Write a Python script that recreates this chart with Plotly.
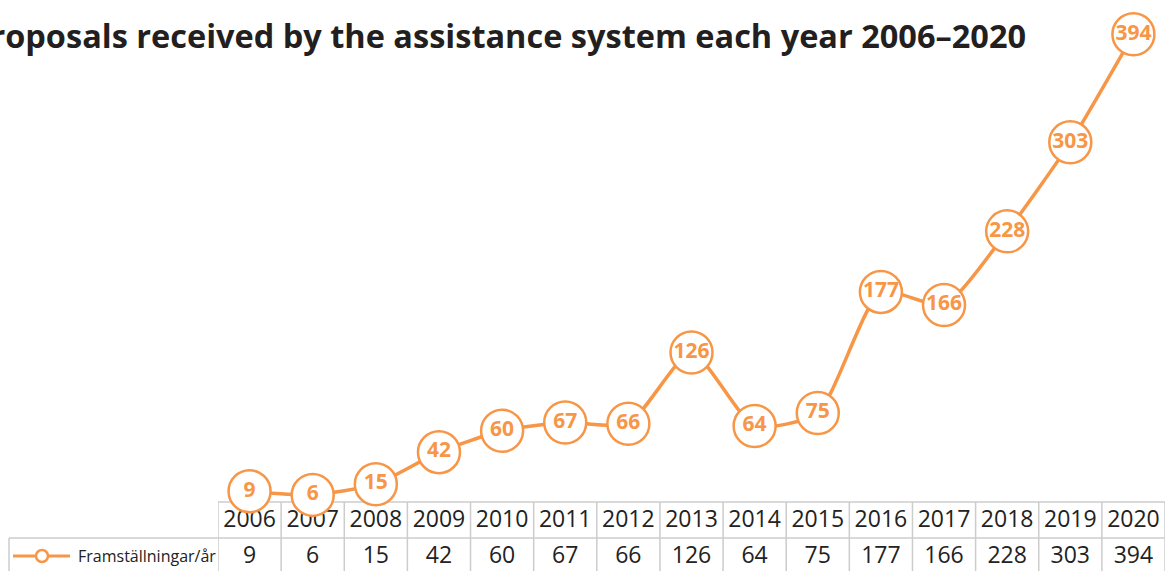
import plotly.graph_objects as go

# Data
years = [2006, 2007, 2008, 2009, 2010, 2011, 2012, 2013, 2014, 2015,
         2016, 2017, 2018, 2019, 2020]
proposals = [9, 6, 15, 42, 60, 67, 66, 126, 64, 75, 177, 166, 228, 303, 394]
series_name = "Framställningar/år"
title_text = "Proposals received by the assistance system each year 2006–2020"

# Layout geometry (pixels)
W, H = 1166, 571
ML, MR, MT, MB = 218, 1, 0, 0
PLOT_W = W - ML - MR
PLOT_H = H - MT - MB
ZERO_PX = 502          # pixel row of the value axis baseline (top of table)
PX_PER_UNIT = 1.187    # vertical scale
Y_MIN = -(H - ZERO_PX) / PX_PER_UNIT
Y_MAX = ZERO_PX / PX_PER_UNIT

ORANGE = "#F79646"
GRID = "#CCCCCC"
TEXT = "#222222"


def py_to_paper(py):
    return (H - py) / PLOT_H


def px_to_paper(px):
    return (px - ML) / PLOT_W


def py_to_y(py):
    return (ZERO_PX - py) / PX_PER_UNIT


fig = go.Figure()

# Data table text (header row with years, value row below)
fig.add_trace(go.Scatter(
    x=years, y=[py_to_y(521)] * len(years), mode="text",
    text=[str(y) for y in years],
    textfont=dict(family="Open Sans", size=23, color=TEXT),
    cliponaxis=False, hoverinfo="skip", showlegend=False,
))
fig.add_trace(go.Scatter(
    x=years, y=[py_to_y(557)] * len(years), mode="text",
    text=[str(v) for v in proposals],
    textfont=dict(family="Open Sans", size=23, color=TEXT),
    cliponaxis=False, hoverinfo="skip", showlegend=False,
))

# Main series: smoothed line with labelled circles
fig.add_trace(go.Scatter(
    x=years, y=proposals, mode="lines+markers+text",
    name=series_name,
    line=dict(color=ORANGE, width=3.5, shape="spline", smoothing=0.6),
    marker=dict(size=42, color="white", line=dict(color=ORANGE, width=2.5)),
    text=[str(v) for v in proposals], textposition="middle center",
    textfont=dict(family="Open Sans", size=21, color=ORANGE, weight="bold"),
    cliponaxis=False, showlegend=False,
))

shapes = []
line_style = dict(color=GRID, width=1.5)
# Vertical table borders
for i in range(len(years) + 1):
    xb = years[0] - 0.5 + i
    shapes.append(dict(type="line", xref="x", yref="paper",
                       x0=xb, x1=xb, y0=py_to_paper(H), y1=py_to_paper(ZERO_PX),
                       line=line_style, layer="below"))
# Top of header row
shapes.append(dict(type="line", xref="x", yref="paper",
                   x0=years[0] - 0.5, x1=years[-1] + 0.5,
                   y0=py_to_paper(ZERO_PX), y1=py_to_paper(ZERO_PX),
                   line=line_style, layer="below"))
# Separator between header and value rows (extends under the row label)
shapes.append(dict(type="line", xref="paper", yref="paper",
                   x0=px_to_paper(9), x1=1,
                   y0=py_to_paper(538), y1=py_to_paper(538),
                   line=line_style, layer="below"))
# Left border of row-label cell
shapes.append(dict(type="line", xref="paper", yref="paper",
                   x0=px_to_paper(9), x1=px_to_paper(9),
                   y0=py_to_paper(H), y1=py_to_paper(538),
                   line=line_style, layer="below"))
# Legend key in the row label: line with open circle
shapes.append(dict(type="line", xref="paper", yref="paper",
                   x0=px_to_paper(13), x1=px_to_paper(70),
                   y0=py_to_paper(556), y1=py_to_paper(556),
                   line=dict(color=ORANGE, width=3)))
shapes.append(dict(type="circle", xref="paper", yref="paper",
                   x0=px_to_paper(36), x1=px_to_paper(48),
                   y0=py_to_paper(562), y1=py_to_paper(550),
                   fillcolor="white", line=dict(color=ORANGE, width=2.5)))

annotations = [
    dict(text=series_name, xref="paper", yref="paper",
         x=px_to_paper(76), y=py_to_paper(556), xanchor="left", yanchor="middle",
         showarrow=False, font=dict(family="Open Sans", size=16, color=TEXT)),
    dict(text=f"<b>{title_text}</b>", xref="paper", yref="paper",
         x=px_to_paper(1028), y=py_to_paper(35), xanchor="right", yanchor="middle",
         showarrow=False, font=dict(family="Open Sans", size=32.5, color="#231F20")),
]

fig.update_layout(
    width=W, height=H,
    margin=dict(l=ML, r=MR, t=MT, b=MB),
    paper_bgcolor="white", plot_bgcolor="white",
    xaxis=dict(range=[years[0] - 0.5, years[-1] + 0.5], visible=False),
    yaxis=dict(range=[Y_MIN, Y_MAX], visible=False),
    shapes=shapes, annotations=annotations,
)

fig.write_html("out.html")
